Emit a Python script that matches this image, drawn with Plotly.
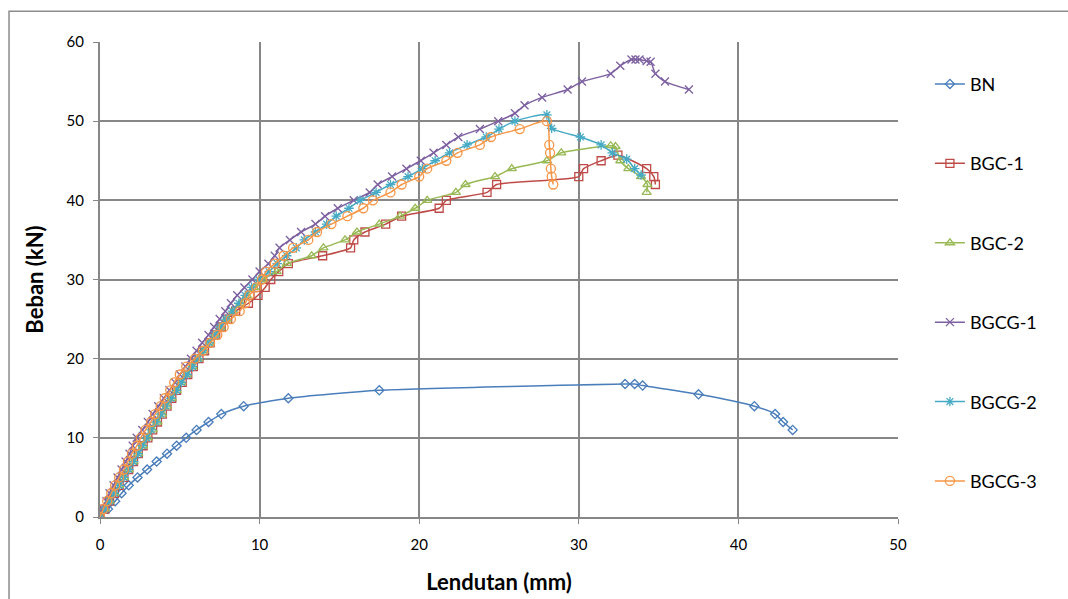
import plotly.graph_objects as go

# Load-deflection data (deflection in mm, load in kN)
bn_x = [0, 0.5, 0.95, 1.35, 1.8, 2.35, 2.95, 3.55, 4.2, 4.8, 5.4, 6.05, 6.8, 7.6, 9.0,
        11.8, 17.5, 32.9, 33.5, 34.0, 37.5, 41.0, 42.3, 42.8, 43.4]
bn_y = [0, 1, 2, 3, 4, 5, 6, 7, 8, 9, 10, 11, 12, 13, 14,
        15, 16, 16.8, 16.8, 16.6, 15.5, 14.0, 13.0, 12.0, 11.0]

bgc1_x = [0, 0.3, 0.6, 0.9, 1.2, 1.5, 1.8, 2.1, 2.4, 2.7, 3.0, 3.3, 3.6, 3.9, 4.2, 4.5,
          4.8, 5.15, 5.5, 5.85, 6.2, 6.55, 6.9, 7.25, 7.6, 8.0, 8.5, 9.3, 9.9, 10.35,
          10.7, 11.2, 11.8, 13.95, 15.7, 15.9, 16.6, 17.9, 18.9, 21.25, 21.7, 24.25,
          24.85, 30.0, 30.3, 31.4, 32.45, 34.25, 34.7, 34.8]
bgc1_y = [0, 1, 2, 3, 4, 5, 6, 7, 8, 9, 10, 11, 12, 13, 14, 15,
          16, 17, 18, 19, 20, 21, 22, 23, 24, 25, 26, 27, 28, 29,
          30, 31, 32, 33, 34, 35, 36, 37, 38, 39, 40, 41,
          42, 43, 44, 45, 45.7, 44, 43, 42]

bgc2_x = [0, 0.3, 0.6, 0.9, 1.2, 1.5, 1.8, 2.1, 2.4, 2.7, 3.0, 3.3, 3.6, 3.9, 4.2, 4.5,
          4.8, 5.1, 5.45, 5.8, 6.15, 6.5, 6.85, 7.2, 7.55, 7.95, 8.35, 8.8, 9.2, 9.65,
          10.2, 11.07, 11.7, 13.26, 14.0, 15.35, 16.1, 17.5, 18.8, 19.75, 20.5, 22.3,
          22.9, 24.75, 25.8, 28.0, 28.9, 32.0, 32.3, 32.6, 33.1, 33.9, 34.3, 34.25]
bgc2_y = [0, 1, 2, 3, 4, 5, 6, 7, 8, 9, 10, 11, 12, 13, 14, 15,
          16, 17, 18, 19, 20, 21, 22, 23, 24, 25, 26, 27, 28, 29,
          30, 31, 32, 33, 34, 35, 36, 37, 38, 39, 40, 41,
          42, 43, 44, 45, 46, 46.9, 46.8, 45, 44, 43, 42, 41]

bgcg1_x = [0, 0.15, 0.4, 0.6, 0.85, 1.1, 1.35, 1.6, 1.85, 2.05, 2.3, 2.65, 3.0, 3.3, 3.65,
           4.0, 4.35, 4.7, 5.0, 5.35, 5.7, 6.05, 6.4, 6.8, 7.15, 7.5, 7.85, 8.2, 8.6,
           9.05, 9.55, 10.0, 10.55, 10.95, 11.25, 11.9, 12.6, 13.5, 14.1, 14.9, 15.9,
           16.9, 17.4, 18.3, 19.2, 20.1, 20.9, 21.7, 22.45, 23.8, 24.95, 26.0, 26.6,
           27.7, 29.3, 30.2, 32.0, 32.6, 33.3, 33.55, 33.8, 34.25, 34.5, 34.8, 35.4, 36.9]
bgcg1_y = [0, 1, 2, 3, 4, 5, 6, 7, 8, 9, 10, 11, 12, 13, 14,
           15, 16, 17, 18, 19, 20, 21, 22, 23, 24, 25, 26, 27, 28,
           29, 30, 31, 32, 33, 34, 35, 36, 37, 38, 39, 40,
           41, 42, 43, 44, 45, 46, 47, 48, 49, 50, 51, 52,
           53, 54, 55, 56, 57, 57.8, 57.8, 57.8, 57.6, 57.5, 56, 55, 54]

bgcg2_x = [0, 0.3, 0.6, 0.9, 1.2, 1.5, 1.8, 2.1, 2.4, 2.65, 2.9, 3.2, 3.5, 3.8, 4.1, 4.45,
           4.8, 5.1, 5.45, 5.8, 6.15, 6.5, 6.85, 7.2, 7.55, 7.9, 8.3, 8.7, 9.1, 9.5,
           9.95, 10.6, 11.1, 11.7, 12.3, 12.8, 13.5, 14.2, 14.8, 15.6, 16.3, 17.3,
           18.2, 19.3, 20.2, 21.0, 21.9, 23.0, 24.2, 25.0, 26.0, 28.0, 28.3, 30.1,
           31.4, 32.1, 33.0, 33.5, 33.9]
bgcg2_y = [0, 1, 2, 3, 4, 5, 6, 7, 8, 9, 10, 11, 12, 13, 14, 15,
           16, 17, 18, 19, 20, 21, 22, 23, 24, 25, 26, 27, 28, 29,
           30, 31, 32, 33, 34, 35, 36, 37, 38, 39, 40, 41,
           42, 43, 44, 45, 46, 47, 48, 49, 50, 50.8, 49.1, 48,
           47, 46, 45.2, 44, 43.2]

bgcg3_x = [0, 0.2, 0.45, 0.7, 0.95, 1.2, 1.5, 1.75, 2.0, 2.3, 2.55, 2.85, 3.2, 3.45, 3.8,
           4.05, 4.4, 4.65, 5.0, 5.4, 5.95, 6.45, 6.9, 7.35, 7.75, 8.2, 8.75, 9.1, 9.35,
           9.8, 10.15, 10.4, 10.95, 11.5, 12.1, 13.05, 13.6, 14.5, 15.5, 16.5, 17.1,
           18.2, 18.9, 20.0, 20.5, 21.7, 22.4, 23.8, 24.5, 26.3, 28.0, 28.15, 28.2,
           28.25, 28.3, 28.4]
bgcg3_y = [0, 1, 2, 3, 4, 5, 6, 7, 8, 9, 10, 11, 12, 13, 14,
           15, 16, 17, 18, 19, 20, 21, 22, 23, 24, 25, 26, 27, 28,
           29, 30, 31, 32, 33, 34, 35, 36, 37, 38, 39, 40,
           41, 42, 43, 44, 45, 46, 47, 48, 49, 50, 47, 46,
           44, 43, 42]

x_ticks = [0, 10, 20, 30, 40, 50]
y_ticks = [0, 10, 20, 30, 40, 50, 60]

series = [
    ("BN", bn_x, bn_y, "#4A7EBB", "diamond-open", 7),
    ("BGC-1", bgc1_x, bgc1_y, "#BE4B48", "square-open", 8),
    ("BGC-2", bgc2_x, bgc2_y, "#98B954", "triangle-up-open", 8),
    ("BGCG-1", bgcg1_x, bgcg1_y, "#7D60A0", "x-thin-open", 8),
    ("BGCG-2", bgcg2_x, bgcg2_y, "#46AAC5", "asterisk-open", 8),
    ("BGCG-3", bgcg3_x, bgcg3_y, "#F79646", "circle-open", 9),
]

FONT = "Lato, 'Open Sans', sans-serif"

fig = go.Figure()
for name, xs, ys, color, symbol, size in series:
    fig.add_trace(go.Scatter(
        x=xs, y=ys, name=name, mode="lines+markers", legendgroup=name,
        line=dict(color=color, width=1.5, shape="spline", smoothing=0.6),
        marker=dict(symbol=symbol, size=size, color=color,
                    line=dict(color=color, width=1.3)),
    ))

grid_color = "#878787"
fig.update_xaxes(
    range=[0, 50], tickvals=x_ticks, showgrid=True, gridcolor=grid_color, gridwidth=2,
    zeroline=False, showline=True, linecolor=grid_color, linewidth=2,
    ticks="outside", ticklen=5, tickcolor=grid_color, tickwidth=1,
    ticklabelstandoff=8, automargin=False,
    tickfont=dict(family=FONT, size=15, color="#000"),
    title=dict(text="<b>Lendutan (mm)</b>", font=dict(family=FONT, size=22, color="#000"),
               standoff=23),
)
fig.update_yaxes(
    range=[0, 60], tickvals=y_ticks, showgrid=True, gridcolor=grid_color, gridwidth=2,
    zeroline=False, showline=True, linecolor=grid_color, linewidth=2,
    ticks="outside", ticklen=5, tickcolor=grid_color, tickwidth=1,
    ticklabelstandoff=6, automargin=False,
    tickfont=dict(family=FONT, size=15, color="#000"),
    title=dict(text="<b>Beban (kN)</b>", font=dict(family=FONT, size=22, color="#000"),
               standoff=17),
)

# outer chart frame
fig.add_shape(type="rect", xref="paper", yref="paper",
              x0=-0.114, y0=-0.25, x1=1.25, y1=1.065,
              line=dict(color="#8c8c8c", width=1.5), fillcolor="rgba(0,0,0,0)", layer="below")

fig.update_layout(
    width=1068, height=599,
    margin=dict(l=100, r=170, t=42, b=82),
    paper_bgcolor="white", plot_bgcolor="white",
    font=dict(family=FONT, color="#000"),
    legend=dict(x=1.04, y=0.95, xanchor="left", yanchor="top",
                font=dict(family=FONT, size=18, color="#000"),
                tracegroupgap=53, bgcolor="rgba(0,0,0,0)"),
    showlegend=True,
)

fig.write_html("out.html")
